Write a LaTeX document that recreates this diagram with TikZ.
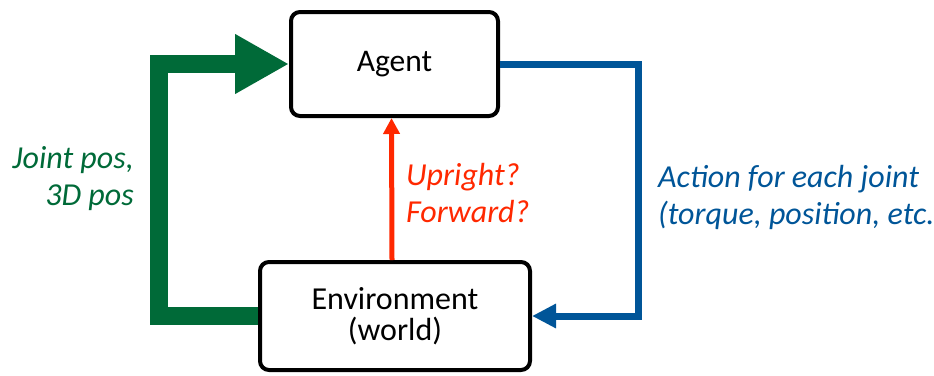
\documentclass[tikz,border=0pt]{standalone}
\usepackage{fontspec}
\setmainfont{Carlito}
\usetikzlibrary{arrows.meta,calc}
\definecolor{obsgreen}{RGB}{0,106,56}
\definecolor{actblue}{RGB}{0,85,152}
\definecolor{rewred}{RGB}{255,40,0}

\begin{document}
\begin{tikzpicture}[x=1pt,y=-1pt,
	box/.style={draw,line width=4pt,rounded corners=9pt,fill=white},
	lbl/.style={inner sep=0pt,font=\fontsize{32}{37}\selectfont\itshape}]
	\useasboundingbox (0,0) rectangle (934,375);
	\node[box,minimum width=207pt,minimum height=104pt,font=\fontsize{31.5}{36}\selectfont] (Ag) at (394.5,64) {Agent};
	\node[box,minimum width=270pt,minimum height=108pt,align=center,font=\fontsize{32}{31}\selectfont] (Env) at (395,316) {Environment\\(world)};
%
	\draw[obsgreen,line width=18pt,-{Triangle[width=56pt,length=54pt]}] (Env.west) -- ++(-99,0) |- (Ag.west);
	\draw[actblue,line width=7pt,-{Triangle[width=23pt,length=24pt]}] (Ag.east) -- ++(138,0) |- (Env.east);
	\draw[rewred,line width=5pt,-{Triangle[width=16pt,length=16pt]}] ($(Env.north)+(-3,0)$) -- ($(Ag.south)+(-3,0)$);
%
	\node[lbl,obsgreen,anchor=east,align=right] (obs) at (134,179) {Joint pos,\\3D pos};
	\node[lbl,rewred,anchor=west,align=left] (rew) at (406,193) {Upright?\\Forward?};
	\node[lbl,actblue,anchor=west,align=left] (act) at (658,197) {Action for each joint\\(torque, position, etc.};
\end{tikzpicture}
\end{document}
